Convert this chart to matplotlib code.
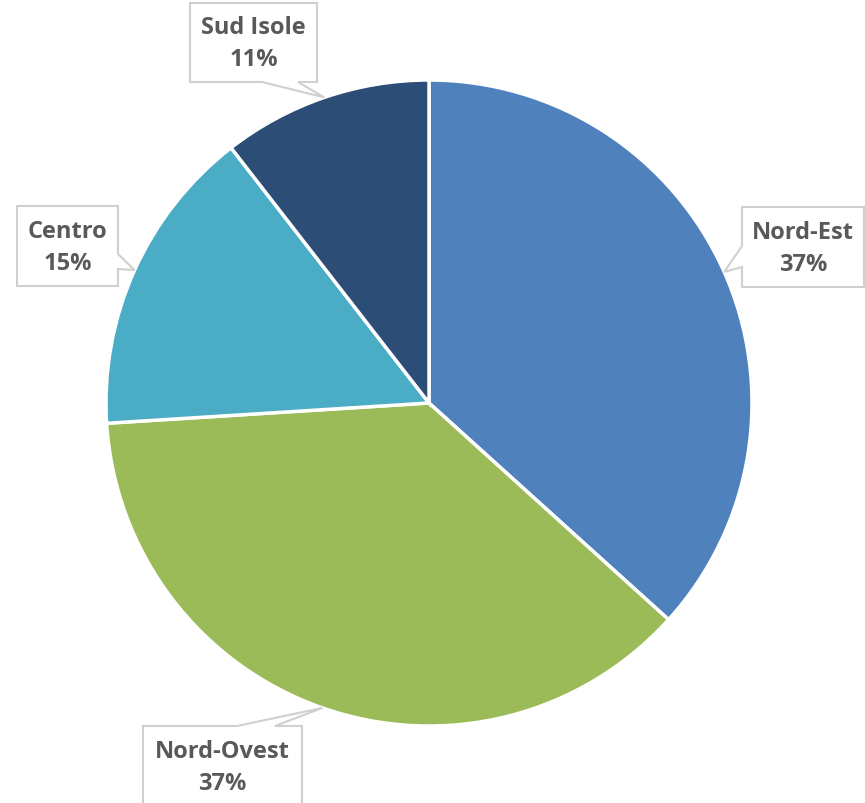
import matplotlib
matplotlib.use('Agg')
import matplotlib.pyplot as plt
import numpy as np
from matplotlib.patches import Polygon

regions = ["Nord-Est", "Nord-Ovest", "Centro", "Sud Isole"]
shares = [36.7, 37.3, 15.5, 10.5]
pct_labels = ["37%", "37%", "15%", "11%"]
colors = ["#4F81BD", "#9BBB59", "#4BACC6", "#2C4D75"]

W, H = 865, 804
fig = plt.figure(figsize=(W / 100, H / 100), dpi=100)

# pie axes: center (429, 404) px from top, radius 323 px
cx, cy, r = 429, 404, 323
ax = fig.add_axes([(cx - r) / W, (H - cy - r) / H, 2 * r / W, 2 * r / H])
wedges, _ = ax.pie(shares, colors=colors, startangle=90, counterclock=False,
                   wedgeprops=dict(edgecolor="white", linewidth=2.5))
ax.set_xlim(-1, 1)
ax.set_ylim(-1, 1)
ax.set_aspect("equal")
ax.axis("off")

# overlay axes in pixel coords (top-left origin) for the callouts
ov = fig.add_axes([0, 0, 1, 1], zorder=5)
ov.set_xlim(0, W)
ov.set_ylim(H, 0)
ov.axis("off")

# callout boxes: (x0, y0, x1, y1, side, notch_a, notch_b, text_y)
boxes = {
    "Nord-Est": (742, 208, 864, 288, "left", 247, 268, 249),
    "Nord-Ovest": (143, 727, 302, 812, "top", 237, 275, 768),
    "Centro": (17, 207, 118, 287, "right", 255, 270, 248),
    "Sud Isole": (190, 4, 317, 83, "bottom", 262, 298, 44),
}


def tip_of(w):
    mid = np.deg2rad((w.theta1 + w.theta2) / 2)
    disp = ax.transData.transform((np.cos(mid), np.sin(mid)))
    return ov.transData.inverted().transform(disp)


for w, name, pct in zip(wedges, regions, pct_labels):
    x0, y0, x1, y1, side, a, b, ty = boxes[name]
    t = tuple(tip_of(w))
    if side == "left":
        pts = [(x0, y0), (x1, y0), (x1, y1), (x0, y1), (x0, b), t, (x0, a)]
    elif side == "right":
        pts = [(x0, y0), (x1, y0), (x1, a), t, (x1, b), (x1, y1), (x0, y1)]
    elif side == "top":
        pts = [(x0, y0), (a, y0), t, (b, y0), (x1, y0), (x1, y1), (x0, y1)]
    else:
        pts = [(x0, y0), (x1, y0), (x1, y1), (b, y1), t, (a, y1), (x0, y1)]
    ov.add_patch(Polygon(pts, closed=True, facecolor="white",
                         edgecolor="#D0D0D0", linewidth=1.5))
    ov.text((x0 + x1) / 2, ty, name + "\n" + pct, ha="center", va="center",
            fontsize=17, fontweight="bold", color="#595959",
            family="Open Sans", linespacing=1.45)

fig.savefig("out.png", dpi=100)
